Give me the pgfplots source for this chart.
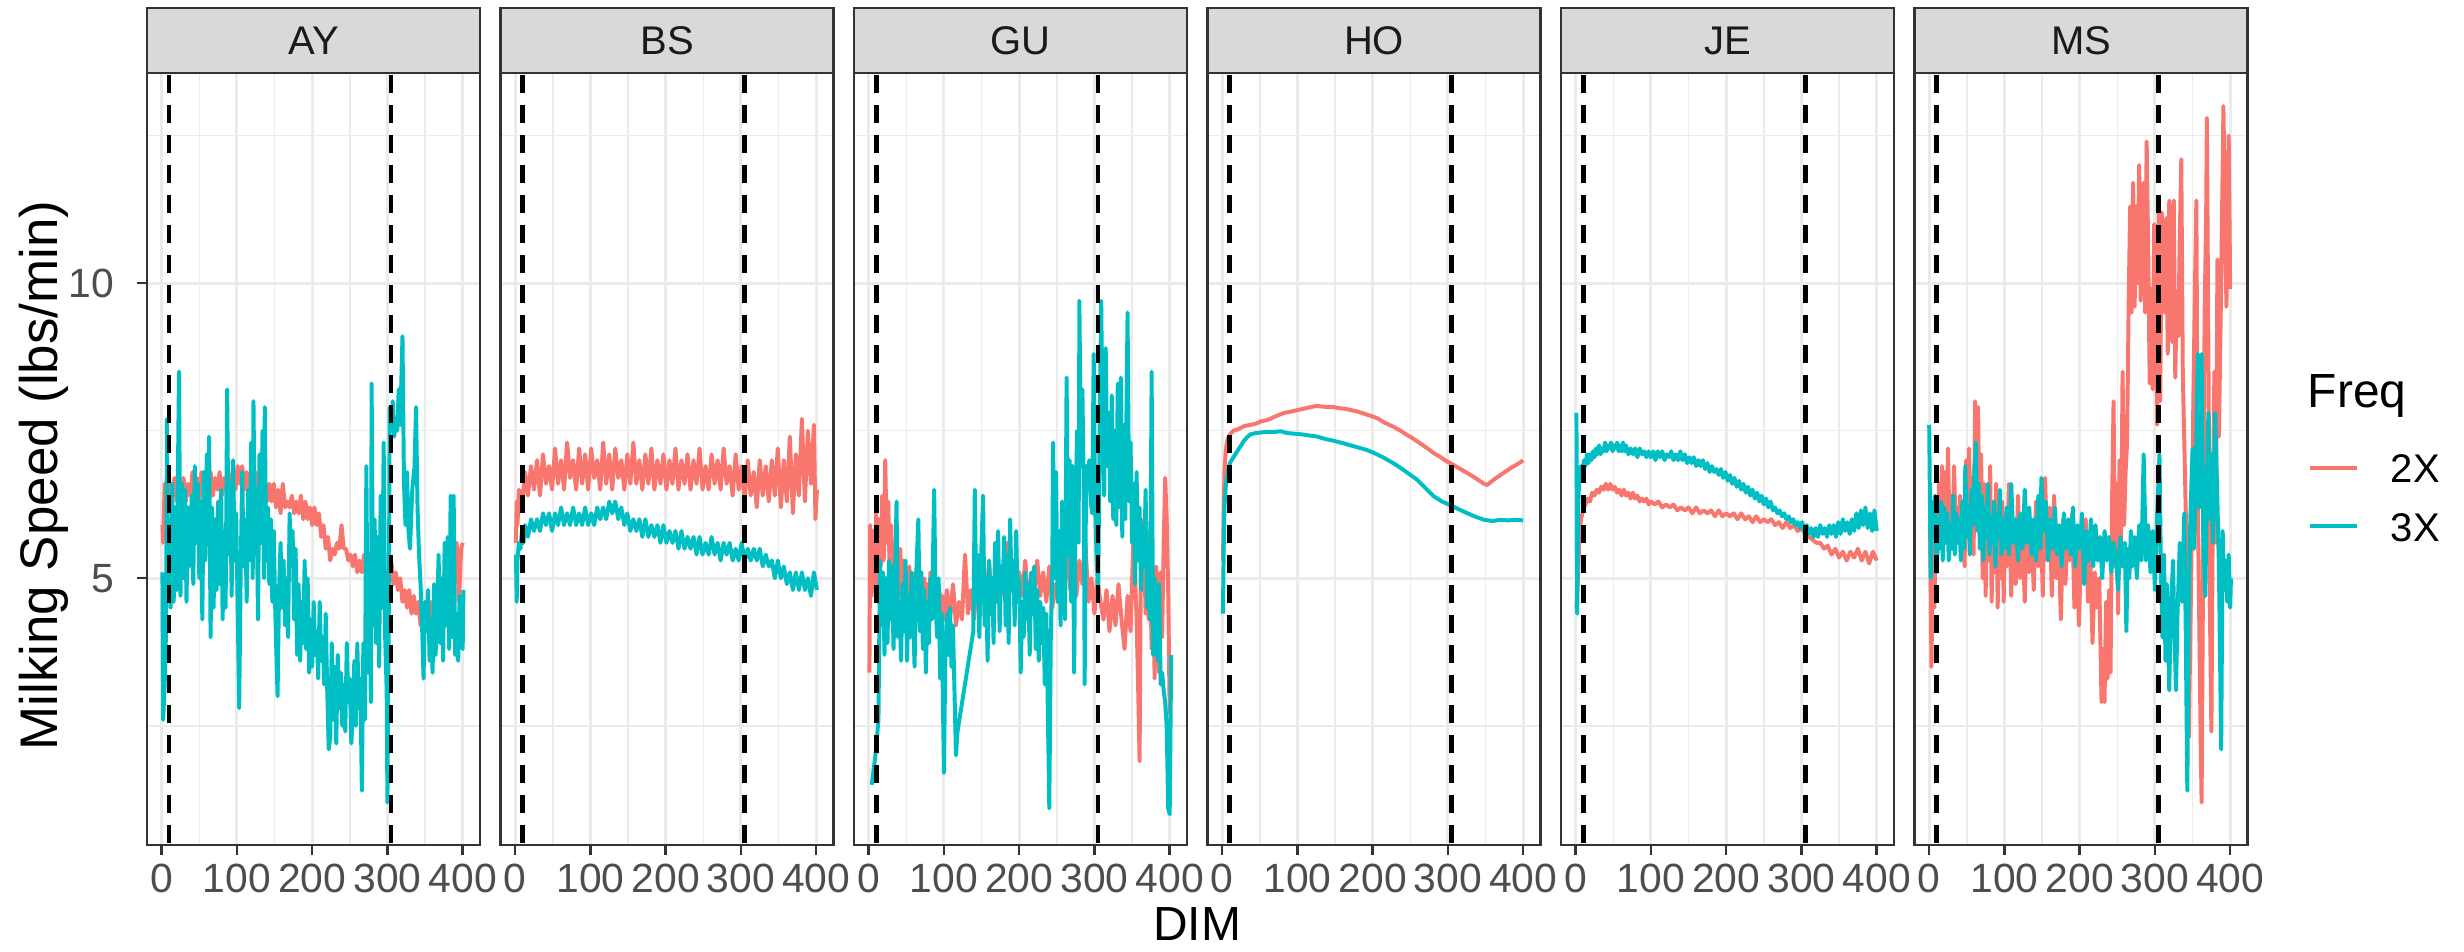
\documentclass[border=0pt]{standalone}
\usepackage{fontspec}
\setmainfont{Liberation Sans}
\usepackage{pgfplots}
\pgfplotsset{compat=1.18}
\definecolor{c2x}{HTML}{F8766D}
\definecolor{c3x}{HTML}{00BFC4}
\definecolor{grid92}{HTML}{EBEBEB}
\definecolor{g20}{HTML}{333333}
\definecolor{g30}{HTML}{4D4D4D}
\definecolor{g85}{HTML}{D9D9D9}
\definecolor{g10}{HTML}{1A1A1A}
\pgfplotsset{
 panel/.style={
  scale only axis, width=79.92pt, height=185.28pt,
  xmin=-19.5, xmax=423, ymin=0.48, ymax=13.56,
  xtick={0,100,200,300,400}, ytick={5,10},
  minor xtick={50,150,250,350}, minor ytick={2.5,7.5,12.5},
  grid=both,
  major grid style={color=grid92, line width=0.7pt},
  minor grid style={color=grid92, line width=0.35pt},
  axis line style={g20, line width=0.6pt},
  tick align=outside, major tick length=2.4pt, minor tick length=0pt,
  every tick/.style={g20, line width=0.6pt},
  xtick pos=bottom, ytick pos=left,
  /pgf/number format/assume math mode=true,
  ticklabel style={font=\fontsize{9.8}{10}\selectfont, text=g30, inner sep=0pt},
  xticklabel style={anchor=base, yshift=-9.0pt},
  yticklabel style={anchor=east, xshift=-5.28pt},
  anchor=north west,
 },
 inner/.style={yticklabels={}, ytick style={draw=none}},
 sr/.style={c2x, line width=0.95pt, line join=round},
 sc/.style={c3x, line width=0.95pt, line join=round},
 vl/.style={black, line width=1.1pt, dash pattern=on 4.3pt off 2.9pt},
}
\newcommand{\vlines}{%
 \addplot[vl] coordinates {(10,0) (10,14)};
 \addplot[vl] coordinates {(305,0) (305,14)};}
\begin{document}
\begin{tikzpicture}
\useasboundingbox (0,0) rectangle (591.36pt,-228.24pt);
% ---------------- AY
\begin{axis}[panel, at={(35.28pt,-17.52pt)}]
\addplot[sr] coordinates {(1,5.9)(2,5.6)(3,6.1)(4,6.6)(6,6.4)(8,6.7)(10,6.3)(12,6.6)(14,6.4)(17,6.7)(20,6.3)(23,6.6)(26,6.4)(29,6.7)(32,6.3)(35,6.6)(38,6.4)(41,6.8)(44,6.4)(47,6.7)(50,6.3)(53,6.8)(56,6.4)(59,6.7)(62,6.4)(65,6.8)(68,6.4)(71,6.7)(74,6.5)(77,6.8)(80,6.4)(83,6.7)(86,6.5)(89,6.8)(92,6.4)(95,6.7)(98,6.5)(101,6.9)(104,6.6)(107,6.9)(110,6.5)(113,6.8)(116,6.5)(119,6.7)(122,6.4)(125,6.8)(128,6.4)(131,6.7)(134,6.4)(137,6.7)(140,6.3)(143,6.6)(146,6.3)(149,6.6)(152,6.2)(155,6.5)(158,6.1)(161,6.6)(164,6.2)(167,6.3)(170,6.2)(173,6.4)(176,6.1)(179,6.3)(182,6.1)(185,6.4)(188,6.0)(191,6.3)(194,6.0)(197,6.2)(200,5.9)(203,6.2)(206,5.9)(209,6.1)(212,5.7)(215,5.9)(218,5.5)(221,5.7)(224,5.3)(227,5.5)(230,5.4)(233,5.6)(236,5.5)(239,5.9)(242,5.5)(245,5.5)(248,5.3)(251,5.4)(254,5.2)(257,5.4)(260,5.1)(263,5.3)(266,5.1)(269,5.4)(272,5.2)(275,5.3)(278,5.1)(281,5.2)(284,5.0)(287,5.1)(290,5.0)(293,5.2)(296,4.9)(299,5.1)(302,5.0)(305,5.3)(308,4.9)(311,5.1)(314,4.8)(317,5.0)(320,4.6)(323,4.8)(326,4.5)(329,4.8)(332,4.4)(335,4.7)(338,4.4)(341,4.6)(344,4.2)(347,4.5)(350,4.2)(353,4.5)(356,4.2)(359,4.6)(362,4.3)(365,4.7)(368,4.3)(371,4.6)(374,4.4)(377,4.8)(380,4.4)(383,4.9)(386,5.6)(389,5.3)(392,5.6)(395,4.6)(398,5.5)(400,5.6)};
\addplot[sc] coordinates {(1,5.1)(2,2.6)(4,3.2)(6,4.2)(7,7.7)(8,5.0)(10,6.0)(12,4.5)(14,6.6)(16,4.6)(18,6.2)(20,4.8)(23,8.5)(25,4.7)(27,6.6)(29,5.0)(31,6.5)(33,4.6)(35,6.2)(37,5.2)(40,6.4)(42,4.9)(44,6.9)(46,5.6)(48,6.6)(50,5.0)(52,6.3)(54,4.3)(56,6.8)(58,5.3)(60,7.1)(62,5.6)(63,7.4)(65,4.0)(67,6.2)(69,4.5)(71,6.0)(73,4.8)(75,6.3)(77,4.9)(79,6.5)(81,4.3)(83,5.8)(85,4.5)(87,8.2)(89,5.4)(91,6.6)(93,4.7)(95,7.0)(97,5.3)(99,6.1)(101,4.5)(103,2.8)(105,5.1)(107,6.8)(109,5.2)(111,6.0)(113,4.6)(115,6.5)(117,5.3)(119,7.3)(121,5.0)(122,8.0)(124,5.4)(126,6.5)(128,4.3)(130,7.1)(132,5.6)(134,7.5)(136,5.0)(137,7.9)(139,5.3)(141,6.2)(143,4.9)(145,6.0)(147,4.6)(149,5.8)(151,4.4)(154,3.0)(156,4.8)(158,5.6)(160,4.5)(162,5.3)(164,4.2)(166,5.0)(168,4.0)(170,6.1)(172,5.2)(174,5.8)(176,4.3)(178,5.5)(180,3.7)(182,4.9)(184,3.6)(186,4.6)(188,3.9)(190,5.3)(192,3.8)(194,5.0)(196,3.4)(198,4.3)(200,3.5)(202,4.6)(204,3.7)(206,4.1)(208,3.3)(210,4.6)(212,3.6)(214,4.0)(216,3.2)(218,4.4)(220,3.1)(222,2.1)(224,2.3)(226,3.9)(228,2.6)(230,3.5)(232,2.2)(234,3.7)(236,2.8)(238,3.4)(240,2.5)(242,3.2)(244,2.4)(246,3.9)(248,2.9)(250,3.3)(252,2.2)(254,2.7)(256,3.6)(258,2.5)(260,3.9)(262,2.8)(264,3.3)(266,1.4)(268,3.9)(270,2.6)(272,6.9)(274,3.4)(276,5.0)(278,2.9)(279,8.3)(281,4.2)(283,6.0)(285,3.9)(287,5.7)(289,3.5)(291,6.4)(293,4.5)(295,7.3)(297,4.0)(299,3.1)(300,1.2)(302,4.8)(303,7.9)(305,7.5)(307,8.0)(309,7.4)(311,7.6)(313,7.5)(315,8.2)(317,7.6)(320,9.1)(322,6.6)(324,5.9)(326,6.8)(328,5.8)(330,5.5)(333,6.5)(336,6.9)(338,7.9)(340,6.2)(342,5.4)(344,4.9)(346,4.2)(348,3.3)(350,4.6)(352,4.1)(354,4.8)(356,3.6)(358,4.3)(360,3.4)(362,4.9)(364,3.7)(366,4.4)(368,5.4)(370,3.9)(372,5.0)(374,3.6)(376,5.6)(378,4.2)(380,5.7)(382,3.8)(384,6.4)(386,4.0)(388,6.4)(390,3.7)(392,4.4)(394,3.6)(396,4.7)(398,4.1)(400,3.8)(401,4.8)};
\vlines
\end{axis}
% ---------------- BS
\begin{axis}[panel, inner, at={(120.12pt,-17.52pt)}]
\addplot[sr] coordinates {(1,5.6)(2,6.3)(3,5.9)(5,6.5)(9,6.2)(13,6.8)(17,6.4)(21,6.9)(25,6.5)(29,7.0)(33,6.4)(37,7.1)(41,6.6)(45,6.9)(49,6.5)(53,7.2)(57,6.6)(61,7.0)(65,6.5)(69,7.3)(73,6.7)(77,7.0)(81,6.5)(85,7.2)(89,6.6)(93,7.1)(97,6.5)(101,7.2)(105,6.7)(109,7.0)(113,6.5)(117,7.3)(121,6.6)(125,7.1)(129,6.5)(133,7.2)(137,6.7)(141,7.0)(145,6.5)(149,7.1)(153,6.6)(157,7.3)(161,6.6)(165,7.0)(169,6.5)(173,7.1)(177,6.6)(181,7.2)(185,6.5)(189,7.0)(193,6.6)(197,7.1)(201,6.5)(205,7.0)(209,6.6)(213,7.2)(217,6.5)(221,7.0)(225,6.6)(229,7.1)(233,6.5)(237,7.0)(241,6.6)(245,7.2)(249,6.5)(253,6.9)(257,6.5)(261,7.1)(265,6.6)(269,7.0)(273,6.5)(277,7.2)(281,6.6)(285,6.9)(289,6.4)(293,7.1)(297,6.5)(301,6.9)(305,6.3)(309,7.0)(313,6.4)(317,6.8)(321,6.2)(325,7.0)(329,6.4)(333,6.9)(337,6.3)(341,7.0)(345,6.4)(349,7.2)(353,6.2)(357,7.0)(361,6.3)(365,7.4)(369,6.1)(373,7.1)(377,6.4)(381,7.7)(385,6.3)(389,7.5)(393,6.6)(397,7.6)(399,6.0)(401,6.5)};
\addplot[sc] coordinates {(1,5.4)(2,4.6)(3,5.3)(5,5.6)(7,5.5)(9,5.8)(11,5.6)(13,5.9)(17,5.7)(21,6.0)(25,5.8)(29,6.0)(33,5.8)(37,6.1)(41,5.9)(45,6.1)(49,5.8)(53,6.1)(57,5.9)(61,6.2)(65,5.9)(69,6.1)(73,5.9)(77,6.2)(81,5.9)(85,6.1)(89,5.9)(93,6.2)(97,5.9)(101,6.1)(105,5.9)(109,6.2)(113,6.0)(117,6.2)(121,6.0)(125,6.3)(129,6.1)(133,6.3)(137,6.0)(141,6.2)(145,5.9)(149,6.1)(153,5.8)(157,6.0)(161,5.8)(165,6.0)(169,5.7)(173,6.0)(177,5.7)(181,5.9)(185,5.7)(189,5.9)(193,5.6)(197,5.9)(201,5.6)(205,5.8)(209,5.6)(213,5.8)(217,5.5)(221,5.8)(225,5.5)(229,5.7)(233,5.5)(237,5.7)(241,5.4)(245,5.7)(249,5.4)(253,5.6)(257,5.4)(261,5.7)(265,5.4)(269,5.6)(273,5.3)(277,5.6)(281,5.4)(285,5.6)(289,5.3)(293,5.5)(297,5.3)(301,5.6)(305,5.3)(309,5.5)(313,5.3)(317,5.5)(321,5.3)(325,5.5)(329,5.2)(333,5.4)(337,5.2)(341,5.3)(345,5.0)(349,5.3)(353,5.0)(357,5.2)(361,4.9)(365,5.1)(369,4.8)(373,5.1)(377,4.8)(381,5.1)(385,4.8)(389,5.0)(393,4.7)(397,5.1)(401,4.8)};
\vlines
\end{axis}
% ---------------- GU
\begin{axis}[panel, inner, at={(204.96pt,-17.52pt)}]
\addplot[sr] coordinates {(1,3.4)(2,5.9)(4,4.7)(6,5.8)(8,4.9)(10,6.1)(12,4.6)(14,6.0)(16,5.2)(18,6.4)(20,5.3)(22,7.0)(24,5.6)(26,6.3)(28,5.0)(30,5.9)(32,4.8)(34,5.6)(36,4.6)(38,5.3)(40,4.7)(42,5.5)(44,4.5)(46,5.3)(48,4.6)(50,5.1)(52,4.4)(54,5.2)(56,4.5)(58,5.0)(60,4.3)(62,5.1)(64,4.5)(66,5.2)(68,4.4)(70,4.9)(72,4.3)(74,5.0)(76,4.5)(78,4.9)(80,4.2)(82,5.1)(84,4.4)(86,4.8)(88,4.4)(90,4.9)(92,4.3)(94,4.8)(96,4.2)(98,4.7)(100,4.3)(104,4.8)(108,4.3)(112,4.9)(116,4.2)(120,4.6)(124,4.3)(128,5.4)(132,4.4)(136,4.8)(140,4.3)(144,5.0)(148,4.5)(152,5.2)(156,4.6)(160,5.3)(164,4.5)(168,5.0)(172,4.6)(176,5.1)(180,4.7)(184,5.6)(188,4.8)(192,5.2)(196,4.6)(200,5.1)(204,4.7)(208,5.3)(212,4.6)(216,5.0)(220,4.8)(224,5.3)(228,4.7)(232,5.1)(236,4.6)(240,5.2)(244,4.5)(248,4.9)(252,4.6)(256,5.1)(260,4.8)(264,5.5)(268,4.8)(272,5.1)(276,4.7)(280,5.3)(284,4.9)(288,5.6)(292,4.6)(296,5.0)(300,4.4)(304,5.0)(308,4.6)(312,4.3)(316,4.8)(320,4.1)(324,4.7)(328,4.2)(332,4.9)(336,4.3)(340,3.8)(344,4.7)(348,4.1)(352,5.8)(356,4.3)(358,3.2)(360,1.9)(362,6.0)(364,4.8)(366,5.5)(368,4.4)(370,5.8)(372,4.3)(374,5.2)(376,3.8)(378,4.9)(380,3.3)(382,5.2)(384,4.5)(386,3.4)(388,5.1)(390,4.0)(392,5.6)(394,6.7)(396,6.0)(398,4.8)(400,2.7)};
\addplot[sc] coordinates {(4,1.5)(9,2.0)(13,2.6)(15,5.3)(17,4.2)(19,5.1)(21,3.7)(23,5.0)(25,3.9)(27,5.3)(29,4.3)(31,5.2)(33,3.8)(35,4.9)(37,6.3)(39,4.0)(41,4.6)(43,3.6)(45,4.9)(47,4.1)(49,5.3)(51,3.6)(53,4.7)(55,4.0)(57,5.1)(59,4.3)(61,3.5)(63,5.0)(66,6.0)(68,4.1)(70,5.1)(72,3.8)(74,4.8)(76,3.4)(78,4.6)(80,3.9)(82,5.0)(84,4.3)(87,6.5)(89,4.5)(91,4.0)(93,5.0)(95,3.3)(97,4.4)(100,1.7)(102,3.8)(104,4.4)(106,3.7)(108,4.5)(110,3.5)(112,4.2)(114,3.1)(116,2.0)(118,2.4)(139,4.1)(141,6.5)(143,4.6)(145,5.4)(147,4.0)(149,5.2)(152,6.4)(154,4.2)(156,5.0)(158,3.6)(160,5.3)(162,4.4)(164,5.0)(166,3.9)(168,5.6)(170,4.6)(172,5.8)(174,4.1)(176,5.2)(178,4.8)(180,5.7)(182,4.2)(184,5.4)(186,3.9)(188,6.0)(190,4.8)(192,5.3)(194,4.2)(196,5.8)(198,4.6)(200,5.0)(202,3.4)(204,4.6)(206,4.0)(208,5.1)(210,4.3)(212,4.9)(214,3.7)(216,5.1)(218,4.4)(220,5.2)(222,3.8)(224,4.8)(226,3.6)(228,4.6)(230,3.9)(232,4.5)(234,3.2)(236,4.4)(238,2.8)(240,1.1)(242,4.0)(244,5.2)(245,7.3)(247,5.0)(249,6.8)(251,4.6)(253,5.8)(255,4.2)(257,6.3)(259,5.0)(261,4.3)(263,8.4)(265,5.4)(267,7.0)(269,4.6)(271,6.9)(273,3.4)(275,6.3)(277,7.5)(279,5.6)(280,9.7)(282,6.9)(284,8.2)(286,6.3)(287,3.2)(289,6.9)(291,6.5)(293,7.0)(295,6.3)(297,6.1)(299,8.8)(301,6.2)(303,5.3)(305,4.8)(307,7.6)(309,9.7)(311,7.2)(313,6.4)(315,8.9)(317,6.9)(319,7.8)(321,6.3)(323,8.1)(325,6.0)(327,7.5)(329,5.9)(331,8.3)(333,6.2)(335,8.4)(337,5.7)(339,7.6)(341,6.0)(344,9.5)(346,6.3)(348,7.3)(350,5.6)(352,6.6)(354,4.9)(356,6.8)(358,5.3)(360,6.2)(362,4.8)(364,5.9)(366,5.2)(368,6.5)(370,4.5)(372,5.6)(374,4.3)(376,8.5)(378,3.7)(380,5.0)(382,4.4)(384,3.6)(386,4.9)(388,3.2)(390,3.4)(392,3.1)(394,2.9)(396,2.5)(398,1.1)(400,1.0)(402,3.7)};
\vlines
\end{axis}
% ---------------- HO
\begin{axis}[panel, inner, at={(289.80pt,-17.52pt)}]
\addplot[sr] coordinates {(1,5.3)(2,6.1)(3,6.8)(5,7.2)(7,7.35)(11,7.45)(15,7.5)(20,7.52)(25,7.55)(30,7.58)(38,7.6)(45,7.62)(52,7.66)(60,7.68)(67,7.72)(74,7.76)(82,7.8)(90,7.82)(97,7.84)(104,7.86)(111,7.88)(118,7.9)(125,7.92)(132,7.91)(140,7.9)(148,7.9)(156,7.88)(164,7.87)(171,7.85)(178,7.83)(186,7.8)(193,7.77)(200,7.74)(208,7.7)(215,7.64)(222,7.6)(230,7.55)(237,7.5)(244,7.44)(252,7.38)(259,7.32)(266,7.26)(274,7.19)(281,7.12)(288,7.07)(296,7.0)(303,6.95)(310,6.9)(318,6.84)(326,6.78)(334,6.72)(341,6.66)(348,6.6)(352,6.58)(356,6.62)(362,6.68)(370,6.75)(378,6.82)(385,6.88)(392,6.93)(398,6.98)(400,7.0)};
\addplot[sc] coordinates {(1,4.4)(2,5.5)(3,6.2)(5,6.6)(7,6.75)(9,6.9)(11,6.97)(15,7.05)(20,7.15)(25,7.25)(29,7.33)(34,7.4)(38,7.44)(45,7.46)(52,7.47)(60,7.48)(70,7.48)(78,7.49)(86,7.46)(95,7.45)(104,7.44)(115,7.42)(126,7.4)(137,7.36)(148,7.33)(160,7.29)(171,7.25)(182,7.21)(193,7.17)(204,7.11)(215,7.04)(226,6.96)(237,6.87)(248,6.77)(259,6.67)(270,6.53)(281,6.39)(292,6.3)(303,6.24)(314,6.17)(326,6.1)(337,6.04)(348,5.99)(359,5.97)(370,5.99)(380,5.98)(390,5.99)(400,5.98)};
\vlines
\end{axis}
% ---------------- JE
\begin{axis}[panel, inner, at={(374.64pt,-17.52pt)}]
\addplot[sr] coordinates {(1,4.5)(3,5.0)(5,5.7)(7,6.0)(9,6.1)(11,6.2)(13,6.25)(16,6.35)(19,6.3)(22,6.45)(25,6.4)(28,6.5)(31,6.45)(34,6.55)(37,6.5)(40,6.6)(43,6.5)(46,6.6)(49,6.5)(52,6.55)(55,6.45)(58,6.5)(61,6.4)(64,6.5)(67,6.4)(70,6.45)(73,6.35)(76,6.45)(79,6.35)(82,6.4)(85,6.3)(88,6.35)(91,6.3)(94,6.35)(97,6.25)(100,6.3)(105,6.25)(110,6.3)(115,6.2)(120,6.25)(125,6.2)(130,6.25)(135,6.15)(140,6.2)(145,6.15)(150,6.2)(155,6.1)(160,6.2)(165,6.1)(170,6.15)(175,6.1)(180,6.15)(185,6.05)(190,6.15)(195,6.05)(200,6.1)(205,6.05)(210,6.1)(215,6.0)(220,6.1)(225,6.0)(230,6.05)(235,5.95)(240,6.05)(245,5.95)(250,6.0)(255,5.95)(260,6.0)(265,5.9)(270,5.95)(275,5.85)(280,5.95)(285,5.85)(290,5.9)(295,5.8)(300,5.85)(305,5.75)(310,5.7)(315,5.65)(320,5.6)(325,5.6)(330,5.5)(335,5.55)(340,5.4)(345,5.5)(350,5.35)(355,5.45)(360,5.3)(365,5.45)(370,5.35)(375,5.5)(380,5.3)(385,5.45)(390,5.25)(395,5.45)(400,5.3)};
\addplot[sc] coordinates {(1,7.8)(2,4.4)(3,6.1)(5,6.8)(7,6.9)(9,6.8)(11,7.0)(13,6.9)(15,7.1)(17,6.95)(19,7.1)(21,7.0)(23,7.15)(25,7.05)(27,7.2)(29,7.1)(31,7.25)(33,7.1)(35,7.2)(37,7.15)(39,7.3)(41,7.15)(43,7.25)(45,7.2)(47,7.3)(49,7.15)(51,7.25)(53,7.2)(55,7.3)(57,7.15)(59,7.25)(61,7.15)(63,7.3)(65,7.15)(67,7.25)(70,7.1)(73,7.2)(76,7.1)(79,7.2)(82,7.05)(85,7.2)(88,7.1)(91,7.15)(94,7.05)(97,7.15)(100,7.05)(103,7.15)(106,7.0)(109,7.15)(112,7.05)(115,7.15)(118,7.0)(121,7.1)(124,7.05)(127,7.15)(130,7.0)(133,7.1)(136,7.0)(139,7.15)(142,7.0)(145,7.1)(148,6.95)(151,7.05)(154,6.95)(157,7.05)(160,6.9)(163,7.0)(166,6.9)(169,7.0)(172,6.85)(175,6.95)(178,6.8)(181,6.9)(184,6.8)(187,6.85)(190,6.75)(193,6.85)(196,6.7)(199,6.8)(202,6.65)(205,6.75)(208,6.6)(211,6.7)(214,6.55)(217,6.65)(220,6.5)(223,6.6)(226,6.45)(229,6.55)(232,6.4)(235,6.5)(238,6.35)(241,6.45)(244,6.3)(247,6.4)(250,6.25)(253,6.35)(256,6.2)(259,6.3)(262,6.15)(265,6.2)(268,6.1)(271,6.15)(274,6.05)(277,6.1)(280,6.0)(283,6.05)(286,5.95)(289,6.0)(292,5.9)(295,5.95)(298,5.85)(301,5.95)(304,5.8)(307,5.9)(310,5.75)(313,5.85)(316,5.7)(319,5.85)(322,5.7)(325,5.9)(328,5.75)(331,5.85)(334,5.7)(337,5.9)(340,5.75)(343,5.9)(346,5.7)(349,5.95)(352,5.75)(355,6.0)(358,5.8)(361,5.95)(364,5.75)(367,6.0)(370,5.8)(373,6.1)(376,5.85)(379,6.15)(382,5.9)(385,6.2)(388,5.85)(391,6.1)(394,5.8)(397,6.15)(400,5.8)};
\vlines
\end{axis}
% ---------------- MS
\begin{axis}[panel, inner, at={(459.48pt,-17.52pt)}]
\addplot[sr] coordinates {(1,6.1)(3,3.5)(5,5.6)(7,4.5)(9,6.2)(11,5.4)(13,6.6)(15,5.8)(17,6.9)(19,6.2)(21,6.8)(23,5.7)(25,7.2)(27,5.8)(29,6.4)(31,5.5)(33,6.9)(35,5.9)(37,6.2)(39,5.6)(41,6.4)(43,5.5)(45,6.1)(47,5.2)(49,7.0)(51,6.4)(53,7.2)(55,5.9)(57,6.7)(59,5.4)(61,8.0)(63,6.2)(65,7.9)(67,5.5)(69,7.1)(71,5.0)(73,6.6)(75,4.7)(77,6.3)(79,5.3)(81,6.9)(83,4.6)(85,6.2)(87,5.1)(89,6.6)(91,4.5)(93,6.0)(95,5.0)(97,6.3)(99,4.6)(101,6.1)(103,5.2)(106,6.6)(109,4.7)(112,5.9)(115,4.9)(118,6.4)(121,5.0)(124,5.8)(127,4.6)(130,6.0)(133,5.1)(136,5.7)(139,4.8)(142,6.3)(145,5.2)(148,6.1)(151,4.7)(154,6.7)(157,5.3)(160,6.2)(163,4.7)(166,6.4)(169,5.0)(172,5.6)(175,4.3)(178,6.0)(181,4.9)(184,5.8)(187,5.3)(190,6.1)(193,4.5)(196,5.5)(199,4.2)(202,5.6)(205,5.1)(208,6.0)(211,4.6)(214,5.4)(217,3.9)(220,5.1)(223,4.5)(226,5.0)(229,2.9)(231,3.8)(233,2.9)(235,4.6)(237,3.3)(239,4.8)(241,3.4)(243,6.3)(245,8.0)(247,5.2)(249,6.6)(251,4.4)(253,7.0)(255,5.6)(257,8.5)(259,5.9)(261,6.8)(263,7.3)(265,9.6)(267,11.3)(269,9.5)(271,11.7)(273,9.6)(275,11.3)(277,10.0)(279,12.0)(281,9.7)(283,10.8)(285,11.7)(287,9.5)(289,12.4)(291,10.6)(293,8.3)(295,9.9)(297,8.2)(299,11.0)(301,10.6)(303,7.6)(305,11.3)(307,8.0)(309,11.2)(311,10.0)(313,9.5)(315,11.1)(317,8.8)(319,11.4)(321,10.3)(323,9.0)(325,11.4)(327,8.4)(329,9.8)(331,9.1)(333,10.8)(335,12.1)(337,8.5)(339,7.3)(341,6.1)(343,4.8)(345,2.3)(347,4.0)(349,5.8)(351,8.0)(353,9.8)(355,11.4)(357,6.3)(359,4.1)(361,2.0)(362,1.2)(364,5.2)(366,9.5)(368,11.1)(369,12.8)(371,8.9)(373,4.5)(375,2.4)(377,6.4)(379,8.5)(381,5.6)(383,10.4)(385,7.4)(387,9.1)(389,11.0)(391,13.0)(393,11.1)(395,9.6)(397,11.6)(398,12.5)(399,11.2)(400,9.9)};
\addplot[sc] coordinates {(0,7.6)(2,5.0)(4,6.3)(6,5.7)(8,6.4)(10,5.1)(12,6.0)(14,5.5)(16,6.3)(18,5.3)(20,6.2)(22,5.6)(24,6.1)(26,5.3)(28,5.9)(30,5.5)(32,6.4)(34,5.4)(36,6.1)(38,5.6)(40,6.0)(42,5.3)(44,6.3)(46,5.5)(48,6.9)(50,5.7)(52,6.2)(54,5.4)(56,6.5)(58,5.9)(60,6.8)(62,7.3)(64,5.8)(66,6.6)(68,5.5)(70,6.4)(72,5.3)(74,6.2)(76,5.7)(78,6.6)(80,5.4)(82,6.0)(84,5.6)(86,6.3)(88,5.2)(90,6.1)(92,5.7)(94,6.5)(96,5.4)(98,6.0)(100,5.5)(103,6.2)(106,5.4)(109,6.6)(112,5.6)(115,6.0)(118,5.3)(121,6.1)(124,5.5)(127,6.5)(130,5.6)(133,6.2)(136,5.4)(139,6.0)(142,5.3)(145,6.4)(148,5.5)(149,6.7)(152,5.8)(155,6.3)(158,5.3)(161,6.0)(164,5.5)(167,6.2)(170,5.4)(173,5.9)(176,5.2)(179,6.1)(182,5.5)(185,6.0)(188,5.4)(191,6.2)(194,5.2)(197,5.9)(200,5.5)(203,6.1)(206,4.9)(209,5.8)(212,5.3)(215,6.0)(218,5.2)(221,5.9)(224,5.3)(227,5.7)(230,5.0)(233,5.8)(236,5.3)(239,5.7)(242,5.1)(245,5.6)(248,5.4)(251,4.8)(254,5.7)(257,5.2)(260,5.6)(262,4.1)(264,5.5)(266,5.0)(268,5.8)(270,5.2)(273,5.7)(276,5.0)(279,5.9)(282,5.3)(285,7.1)(288,5.3)(291,5.9)(294,5.1)(297,5.8)(300,4.8)(303,6.1)(306,7.1)(308,5.1)(310,4.0)(312,5.4)(314,3.6)(316,4.9)(319,3.1)(321,4.4)(324,5.3)(326,4.0)(328,3.1)(330,4.4)(333,5.6)(336,4.6)(339,6.1)(341,4.0)(343,1.4)(345,4.5)(347,6.0)(350,7.2)(352,5.5)(354,6.6)(357,8.8)(359,6.2)(362,8.8)(364,5.8)(367,4.7)(369,6.7)(371,7.8)(373,6.0)(375,7.1)(377,5.6)(380,7.8)(383,6.3)(385,5.2)(388,2.1)(390,5.8)(392,4.8)(394,5.3)(396,4.6)(398,5.4)(400,4.5)(401,5.0)};
\vlines
\end{axis}
% ---------------- strips
\foreach \l/\t in {35.28/AY,120.12/BS,204.96/GU,289.80/HO,374.64/JE,459.48/MS}{
  \draw[fill=g85, draw=g20, line width=0.6pt] (\l pt,-1.92pt) rectangle ({\l pt+79.92pt},-17.52pt);
  \node[font=\fontsize{9.6}{10}\selectfont, text=g10, inner sep=0pt] at ({\l pt+39.96pt},-9.72pt) {\t};
}
% ---------------- titles
\node[rotate=90, anchor=base, font=\fontsize{12.7}{14}\selectfont, inner sep=0pt] at (13.68pt,-114.1pt) {Milking Speed (lbs/min)};
\node[anchor=base, font=\fontsize{11.5}{13}\selectfont, inner sep=0pt] at (287.3pt,-225.6pt) {DIM};
% ---------------- legend
\node[anchor=base west, font=\fontsize{11.5}{13}\selectfont, inner sep=0pt] at (553.68pt,-97.68pt) {Freq};
\draw[c2x, line width=0.95pt] (554.4pt,-112.32pt) -- (565.68pt,-112.32pt);
\draw[c3x, line width=0.95pt] (554.4pt,-126.24pt) -- (565.68pt,-126.24pt);
\node[anchor=base west, font=\fontsize{9.6}{10}\selectfont, inner sep=0pt] at (573.6pt,-115.68pt) {2X};
\node[anchor=base west, font=\fontsize{9.6}{10}\selectfont, inner sep=0pt] at (573.6pt,-129.84pt) {3X};
\end{tikzpicture}
\end{document}
